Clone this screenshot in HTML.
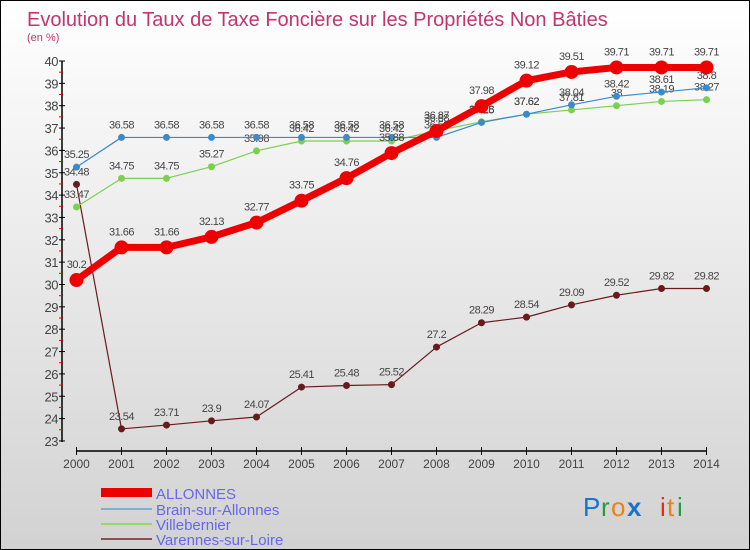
<!DOCTYPE html>
<html><head><meta charset="utf-8"><style>
body{margin:0}
#c{position:relative;width:748px;height:548px;border:1px solid #000;background:linear-gradient(#ffffff,#d2d2d2);font-family:"Liberation Sans",sans-serif;overflow:hidden}
svg{position:absolute;left:0;top:0}
</style></head><body>
<div id="c">
<svg id="s" width="748" height="548">
<text x="26" y="25" font-size="20" fill="#c2356e">Evolution du Taux de Taxe Foncière sur les Propriétés Non Bâties</text>
<text x="26" y="40" font-size="11" fill="#c2356e">(en %)</text>
<g id="axes"></g><g id="series"></g>
<g>
<rect x="100" y="487" width="51" height="9" fill="#e00"/>
<text x="155" y="498" font-size="15" fill="#6666ee">ALLONNES</text>
<line x1="100" y1="508" x2="151" y2="508" stroke="#7ab0d8" stroke-width="2"/>
<text x="155" y="514" font-size="15" fill="#6666ee">Brain-sur-Allonnes</text>
<line x1="100" y1="523" x2="151" y2="523" stroke="#96d870" stroke-width="2"/>
<text x="155" y="529" font-size="15" fill="#6666ee">Villebernier</text>
<line x1="100" y1="538" x2="151" y2="538" stroke="#8a5050" stroke-width="2"/>
<text x="155" y="544" font-size="15" fill="#6666ee">Varennes-sur-Loire</text>
</g>
<g font-size="26" font-family="Liberation Sans,sans-serif">
<text x="582" y="515" fill="#1a73c8">P</text><text x="600" y="515" fill="#2a9a40">r</text><text x="610" y="515" fill="#f08010">o</text><text x="626" y="515" fill="#1a73c8" font-weight="bold">x</text><text x="659" y="515" fill="#e03010">i</text><text x="666" y="515" fill="#f08010">t</text><text x="676" y="515" fill="#2a9a40">i</text>
</g>
</svg></div>
<script>
const years=[2000,2001,2002,2003,2004,2005,2006,2007,2008,2009,2010,2011,2012,2013,2014];
const yTicks=[23,24,25,26,27,28,29,30,31,32,33,34,35,36,37,38,39,40];
const allonnes=[30.2,31.66,31.66,32.13,32.77,33.75,34.76,35.88,36.87,37.98,39.12,39.51,39.71,39.71,39.71];
const brain=[35.25,36.58,36.58,36.58,36.58,36.58,36.58,36.58,36.58,37.25,37.62,38.04,38.42,38.61,38.8];
const villebernier=[33.47,34.75,34.75,35.27,35.98,36.42,36.42,36.42,36.88,37.28,37.62,37.81,38.0,38.19,38.27];
const varennes=[34.48,23.54,23.71,23.9,24.07,25.41,25.48,25.52,27.2,28.29,28.54,29.09,29.52,29.82,29.82];
const NS="http://www.w3.org/2000/svg";
const xS=i=>75.5+i*45, yS=v=>60+(40-v)*22.35;
function mk(t,a,p){const e=document.createElementNS(NS,t);for(const k in a)e.setAttribute(k,a[k]);p.appendChild(e);return e;}
const ax=document.getElementById('axes'), se=document.getElementById('series');
mk('line',{x1:61,y1:60,x2:61,y2:441,stroke:'#000','stroke-width':1.5},ax);
mk('line',{x1:75.5,y1:450,x2:705.5,y2:450,stroke:'#000','stroke-width':1.5},ax);
yTicks.forEach(v=>{
  mk('line',{x1:58,y1:yS(v),x2:64,y2:yS(v),stroke:'#000'},ax);
  if(v<40)mk('line',{x1:58,y1:yS(v+0.5),x2:62,y2:yS(v+0.5),stroke:'#e00'},ax);
  const t=mk('text',{x:57,y:yS(v)+5,'font-size':13,fill:'#444','text-anchor':'end','letter-spacing':'-0.5'},ax);
  
  
  t.textContent=v;
});
years.forEach((y,i)=>{
  mk('line',{x1:xS(i),y1:446,x2:xS(i),y2:454,stroke:'#000'},ax);
  const t=mk('text',{x:xS(i),y:467,'font-size':12,fill:'#444','text-anchor':'middle'},ax);
  
  
  t.textContent=y;
});
function series(vals,color,lw,r,name){
  const g=mk('g',{},se);
  
  
  mk('polyline',{points:vals.map((v,i)=>xS(i)+','+yS(v)).join(' '),fill:'none',stroke:color,'stroke-width':lw,'stroke-linejoin':'round'},g);
  vals.forEach((v,i)=>{
    const c=mk('circle',{cx:xS(i),cy:yS(v),r:r,fill:color},g);
    
    
    const t=mk('text',{x:xS(i),y:yS(v)-9-(r>4?3:0),'font-size':11,fill:'#444','text-anchor':'middle','letter-spacing':'-0.5'},g);
    
    
    t.textContent=v;
  });
}
series(varennes,'#6a1a1a',1.2,3.5,'varennes');
series(villebernier,'#7cd050',1.2,3.5,'villebernier');
series(brain,'#3a8acc',1.2,3.5,'brain');
series(allonnes,'#ee0000',7,7,'allonnes');
</script>
</body></html>
